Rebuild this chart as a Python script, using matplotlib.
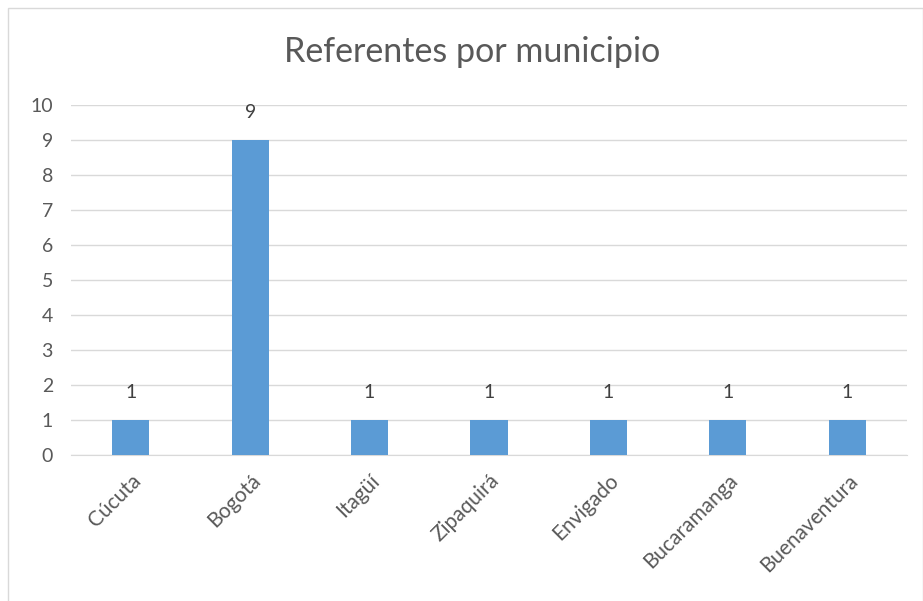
import matplotlib
matplotlib.use("Agg")
import matplotlib.pyplot as plt
from matplotlib.patches import Rectangle

categories = ["Cúcuta", "Bogotá", "Itagüí", "Zipaquirá", "Envigado", "Bucaramanga", "Buenaventura"]
values = [1, 9, 1, 1, 1, 1, 1]
yticks = [0, 1, 2, 3, 4, 5, 6, 7, 8, 9, 10]
title = "Referentes por municipio"

W, H = 923, 601
fig = plt.figure(figsize=(W / 100, H / 100), dpi=100)
fig.patch.set_facecolor("white")
fig.patches.append(Rectangle((8 / W, -0.01), (W - 8.5) / W, 1 - 8 / H + 0.01,
                             transform=fig.transFigure, fill=False,
                             edgecolor="#D9D9D9", linewidth=1))

ax = fig.add_axes([71 / W, 1 - 455 / H, (907 - 71) / W, (455 - 105) / H])
font = "Lato"
text_color = "#595959"

x = list(range(len(categories)))
ax.bar(x, values, width=0.31, color="#5B9BD5", zorder=3)
ax.set_xlim(-0.5, len(categories) - 0.5)
ax.set_ylim(0, 10)
ax.set_yticks(yticks)
ax.set_yticklabels([str(t) for t in yticks], fontfamily=font, fontsize=14, color=text_color)
ax.set_xticks(x)
ax.set_xticklabels(categories, rotation=45, ha="right", rotation_mode="anchor",
                   fontfamily=font, fontsize=15, color=text_color)
ax.tick_params(axis="both", length=0)
ax.tick_params(axis="y", pad=13)
ax.tick_params(axis="x", pad=11)
ax.grid(axis="y", color="#D9D9D9", linewidth=1, zorder=0)
for s in ["top", "right", "left"]:
    ax.spines[s].set_visible(False)
ax.spines["bottom"].set_color("#D9D9D9")

for xi, v in zip(x, values):
    ax.annotate(str(v), (xi, v), xytext=(0, 20), textcoords="offset points",
                ha="center", va="center", fontfamily=font, fontsize=14, color="#404040")

fig.text(472 / W, 1 - 52 / H, title, ha="center", va="center", fontfamily=font,
         fontsize=24.5, color=text_color)

fig.savefig("out.png", dpi=100)
